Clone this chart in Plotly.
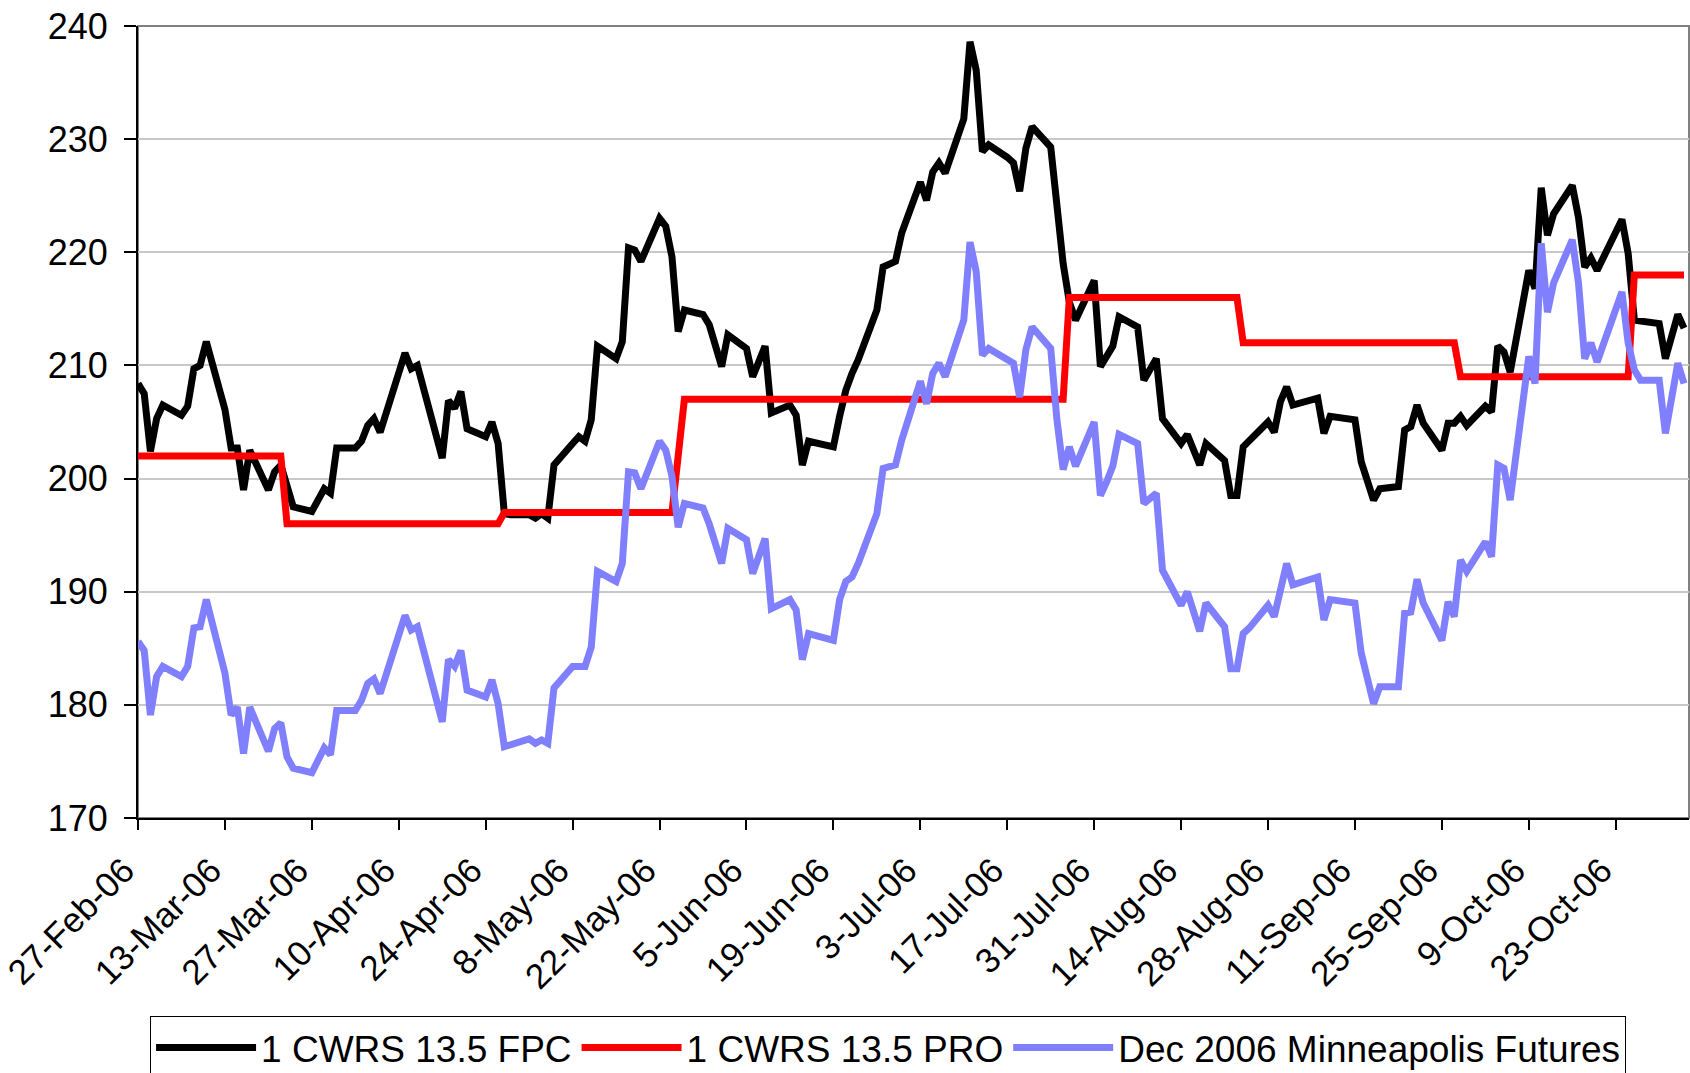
import pandas as pd
import plotly.graph_objects as go

BASE_DATE = "2006-02-27"

# days since 27-Feb-06 and values
fpc_days = [0, 1, 2, 3, 4, 7, 8, 9, 10, 11, 14, 15, 16, 17, 18, 21, 22, 23, 25, 28,
            30, 31, 32, 35, 36, 37, 38, 39, 43, 44, 45, 49, 50, 51, 52, 53, 56, 57, 58, 59,
            60, 63, 64, 65, 66, 67, 70, 71, 72, 73, 74, 77, 78, 79, 80, 81, 84, 85, 86, 87,
            88, 91, 92, 94, 95, 98, 99, 101, 102, 105, 106, 107, 108, 112, 113, 114, 115, 116, 119, 120,
            122, 123, 126, 127, 128, 129, 130, 133, 134, 135, 136, 137, 140, 141, 142, 143, 144, 147, 149, 150,
            151, 154, 155, 157, 158, 161, 162, 164, 165, 168, 169, 171, 172, 175, 176, 177, 178, 179, 182, 183,
            184, 185, 186, 190, 191, 192, 196, 197, 199, 200, 203, 204, 205, 206, 207, 210, 211, 212, 213, 214,
            217, 218, 219, 220, 221, 224, 225, 226, 227, 228, 231, 232, 233, 234, 235, 239, 240, 241, 242, 245,
            246, 248, 249]
fpc_vals = [208.4, 207.5, 202.4, 205.3, 206.5, 205.6, 206.4, 209.7, 210.0, 212.1, 206.1, 202.7, 202.7, 199.0, 202.5, 199.0, 200.6, 201.2, 197.5, 197.1,
            199.1, 198.7, 202.7, 202.7, 203.3, 204.7, 205.3, 204.1, 211.1, 209.7, 210.0, 201.8, 206.9, 206.2, 207.7, 204.4, 203.7, 205.0, 203.1, 196.9,
            196.8, 196.8, 196.5, 196.9, 196.5, 201.2, 203.1, 203.7, 203.3, 205.2, 211.7, 210.6, 212.1, 220.4, 220.2, 219.2, 223.0, 222.3, 219.6, 213.0,
            214.9, 214.5, 213.6, 209.9, 212.7, 211.5, 209.0, 211.7, 205.8, 206.5, 205.6, 201.2, 203.3, 202.8, 205.5, 207.8, 209.3, 210.5, 214.9, 218.7,
            219.2, 221.7, 226.2, 224.6, 227.1, 227.9, 227.0, 231.8, 238.6, 236.1, 228.9, 229.5, 228.4, 227.9, 225.4, 229.2, 231.1, 229.3, 219.0, 215.6,
            214.0, 217.5, 209.9, 211.7, 214.3, 213.4, 208.7, 210.6, 205.3, 203.1, 203.9, 201.2, 203.1, 201.6, 198.5, 198.5, 202.8, 203.4, 205.0, 204.1,
            206.8, 208.1, 206.5, 207.1, 204.0, 205.5, 205.2, 201.5, 198.1, 199.1, 199.3, 204.3, 204.6, 206.5, 204.9, 202.5, 204.9, 204.9, 205.5, 204.7,
            206.4, 205.9, 211.7, 211.2, 209.4, 218.4, 216.8, 225.7, 221.5, 223.4, 225.9, 223.1, 218.7, 219.5, 218.4, 222.9, 219.9, 214.0, 213.9, 213.7,
            210.6, 214.5, 213.3]

pro_days = [0, 23, 24, 58, 59, 86, 88, 149, 150, 177, 178, 212, 213, 240, 241, 249]
pro_vals = [202, 202, 196, 196, 197, 197, 207, 207, 216, 216, 212, 212, 209, 209, 218, 218]

fut_days = [0, 1, 2, 3, 4, 7, 8, 9, 10, 11, 14, 15, 16, 17, 18, 21, 22, 23, 24, 25,
            28, 29, 30, 31, 32, 35, 36, 37, 38, 39, 42, 43, 44, 45, 49, 50, 51, 52, 53, 56,
            57, 58, 59, 63, 64, 65, 66, 67, 70, 72, 73, 74, 77, 78, 79, 80, 81, 84, 85, 86,
            87, 88, 91, 92, 94, 95, 98, 99, 101, 102, 105, 106, 107, 108, 112, 113, 114, 115, 116, 119,
            120, 122, 123, 126, 127, 128, 129, 130, 133, 134, 135, 136, 137, 140, 141, 142, 143, 144, 147, 148,
            149, 150, 151, 154, 155, 156, 157, 158, 161, 162, 164, 165, 168, 169, 171, 172, 175, 176, 177, 178,
            179, 182, 183, 185, 186, 190, 191, 192, 196, 197, 198, 199, 200, 203, 204, 205, 206, 207, 210, 211,
            212, 213, 214, 217, 218, 219, 220, 221, 224, 225, 226, 227, 228, 231, 232, 233, 234, 235, 239, 240,
            241, 242, 245, 246, 248, 249]
fut_vals = [185.6, 184.8, 179.1, 182.5, 183.4, 182.5, 183.4, 186.8, 186.9, 189.3, 182.8, 179.1, 179.8, 175.7, 179.8, 175.9, 177.9, 178.4, 175.4, 174.4,
            174.0, 175.1, 176.2, 175.6, 179.5, 179.5, 180.4, 181.9, 182.3, 181.0, 186.3, 187.9, 186.6, 186.9, 178.5, 184.0, 183.4, 184.8, 181.3, 180.7,
            182.2, 180.1, 176.3, 177.0, 176.6, 176.9, 176.6, 181.5, 183.4, 183.4, 185.1, 191.8, 190.9, 192.5, 200.6, 200.5, 199.1, 203.3, 202.5, 200.2,
            195.7, 197.8, 197.4, 196.0, 192.5, 195.6, 194.6, 191.6, 194.7, 188.5, 189.3, 188.4, 184.0, 186.3, 185.7, 189.3, 190.9, 191.3, 192.5, 196.9,
            200.9, 201.2, 203.4, 208.6, 206.6, 209.3, 210.2, 209.0, 214.0, 220.9, 218.3, 210.9, 211.5, 210.6, 210.2, 207.2, 211.4, 213.4, 211.5, 205.2,
            200.8, 202.8, 201.1, 205.0, 198.5, 199.7, 201.1, 203.9, 203.1, 197.8, 198.7, 191.9, 188.8, 190.0, 186.5, 189.0, 186.9, 183.2, 183.2, 186.3,
            186.8, 188.8, 187.8, 192.5, 190.6, 191.3, 187.5, 189.3, 189.0, 184.6, 182.3, 180.1, 181.6, 181.6, 188.1, 188.2, 191.1, 189.0, 185.7, 189.1,
            187.8, 192.8, 191.8, 194.4, 193.1, 201.2, 200.9, 198.1, 210.8, 208.4, 220.8, 214.7, 217.3, 221.1, 217.3, 210.6, 212.0, 210.3, 216.5, 212.0,
            209.6, 208.7, 208.7, 204.0, 210.2, 208.4]

tick_dates = ["2006-02-27", "2006-03-13", "2006-03-27", "2006-04-10", "2006-04-24", "2006-05-08",
              "2006-05-22", "2006-06-05", "2006-06-19", "2006-07-03", "2006-07-17", "2006-07-31",
              "2006-08-14", "2006-08-28", "2006-09-11", "2006-09-25", "2006-10-09", "2006-10-23"]
tick_labels = ["27-Feb-06", "13-Mar-06", "27-Mar-06", "10-Apr-06", "24-Apr-06", "8-May-06",
               "22-May-06", "5-Jun-06", "19-Jun-06", "3-Jul-06", "17-Jul-06", "31-Jul-06",
               "14-Aug-06", "28-Aug-06", "11-Sep-06", "25-Sep-06", "9-Oct-06", "23-Oct-06"]

series_names = ["1 CWRS 13.5 FPC", "1 CWRS 13.5 PRO", "Dec 2006 Minneapolis Futures"]

base = pd.Timestamp(BASE_DATE)


def to_dates(days):
    return [base + pd.Timedelta(days=d) for d in days]


FONT = "Liberation Sans, Arial, sans-serif"
LW = 7
NBSP = "\u00a0"

fig = go.Figure()
fig.add_trace(go.Scatter(x=to_dates(fpc_days), y=fpc_vals, mode="lines", name=series_names[0],
                         line=dict(color="#000000", width=LW)))
fig.add_trace(go.Scatter(x=to_dates(pro_days), y=pro_vals, mode="lines", name=series_names[1],
                         line=dict(color="#ff0000", width=LW)))
fig.add_trace(go.Scatter(x=to_dates(fut_days), y=fut_vals, mode="lines", name=series_names[2],
                         line=dict(color="#8080ff", width=LW)))

x_end = base + pd.Timedelta(days=249.8)

fig.update_layout(
    width=1690, height=1073,
    margin=dict(l=138, r=1, t=26, b=255, autoexpand=False),
    paper_bgcolor="white", plot_bgcolor="white",
    font=dict(family=FONT, color="black", size=36),
    showlegend=True,
    legend=dict(orientation="h", x=0.4836, xanchor="center", y=-0.2500, yanchor="top",
                bordercolor="black", borderwidth=1, bgcolor="white",
                font=dict(family=FONT, size=37, color="black"), itemwidth=100),
    xaxis=dict(type="date", range=[base, x_end], tickvals=[pd.Timestamp(t) for t in tick_dates],
               ticktext=[t + NBSP * 2 for t in tick_labels], tickangle=-45, ticks="outside",
               ticklen=10, tickwidth=1.5, tickcolor="black", showline=True, linecolor="black",
               linewidth=2, showgrid=False, zeroline=False, ticklabelstandoff=-8,
               ticklabeloverflow="allow",
               tickfont=dict(family=FONT, size=35, color="black")),
    yaxis=dict(range=[170, 240], dtick=10, tick0=170, ticks="outside", ticklen=12, tickwidth=1.5,
               tickcolor="black", showline=True, linecolor="black", linewidth=2, showgrid=True,
               gridcolor="#c8c8c8", gridwidth=1.5, zeroline=False, ticklabelstandoff=9,
               tickfont=dict(family=FONT, size=36, color="black")),
    shapes=[dict(type="rect", xref="paper", yref="paper", x0=0, x1=1, y0=0, y1=1,
                 line=dict(color="#808080", width=2), layer="below")],
)

fig.write_html("out.html", config={"displayModeBar": False},
               post_script="document.body.style.margin='0';document.body.style.overflow='hidden';")
